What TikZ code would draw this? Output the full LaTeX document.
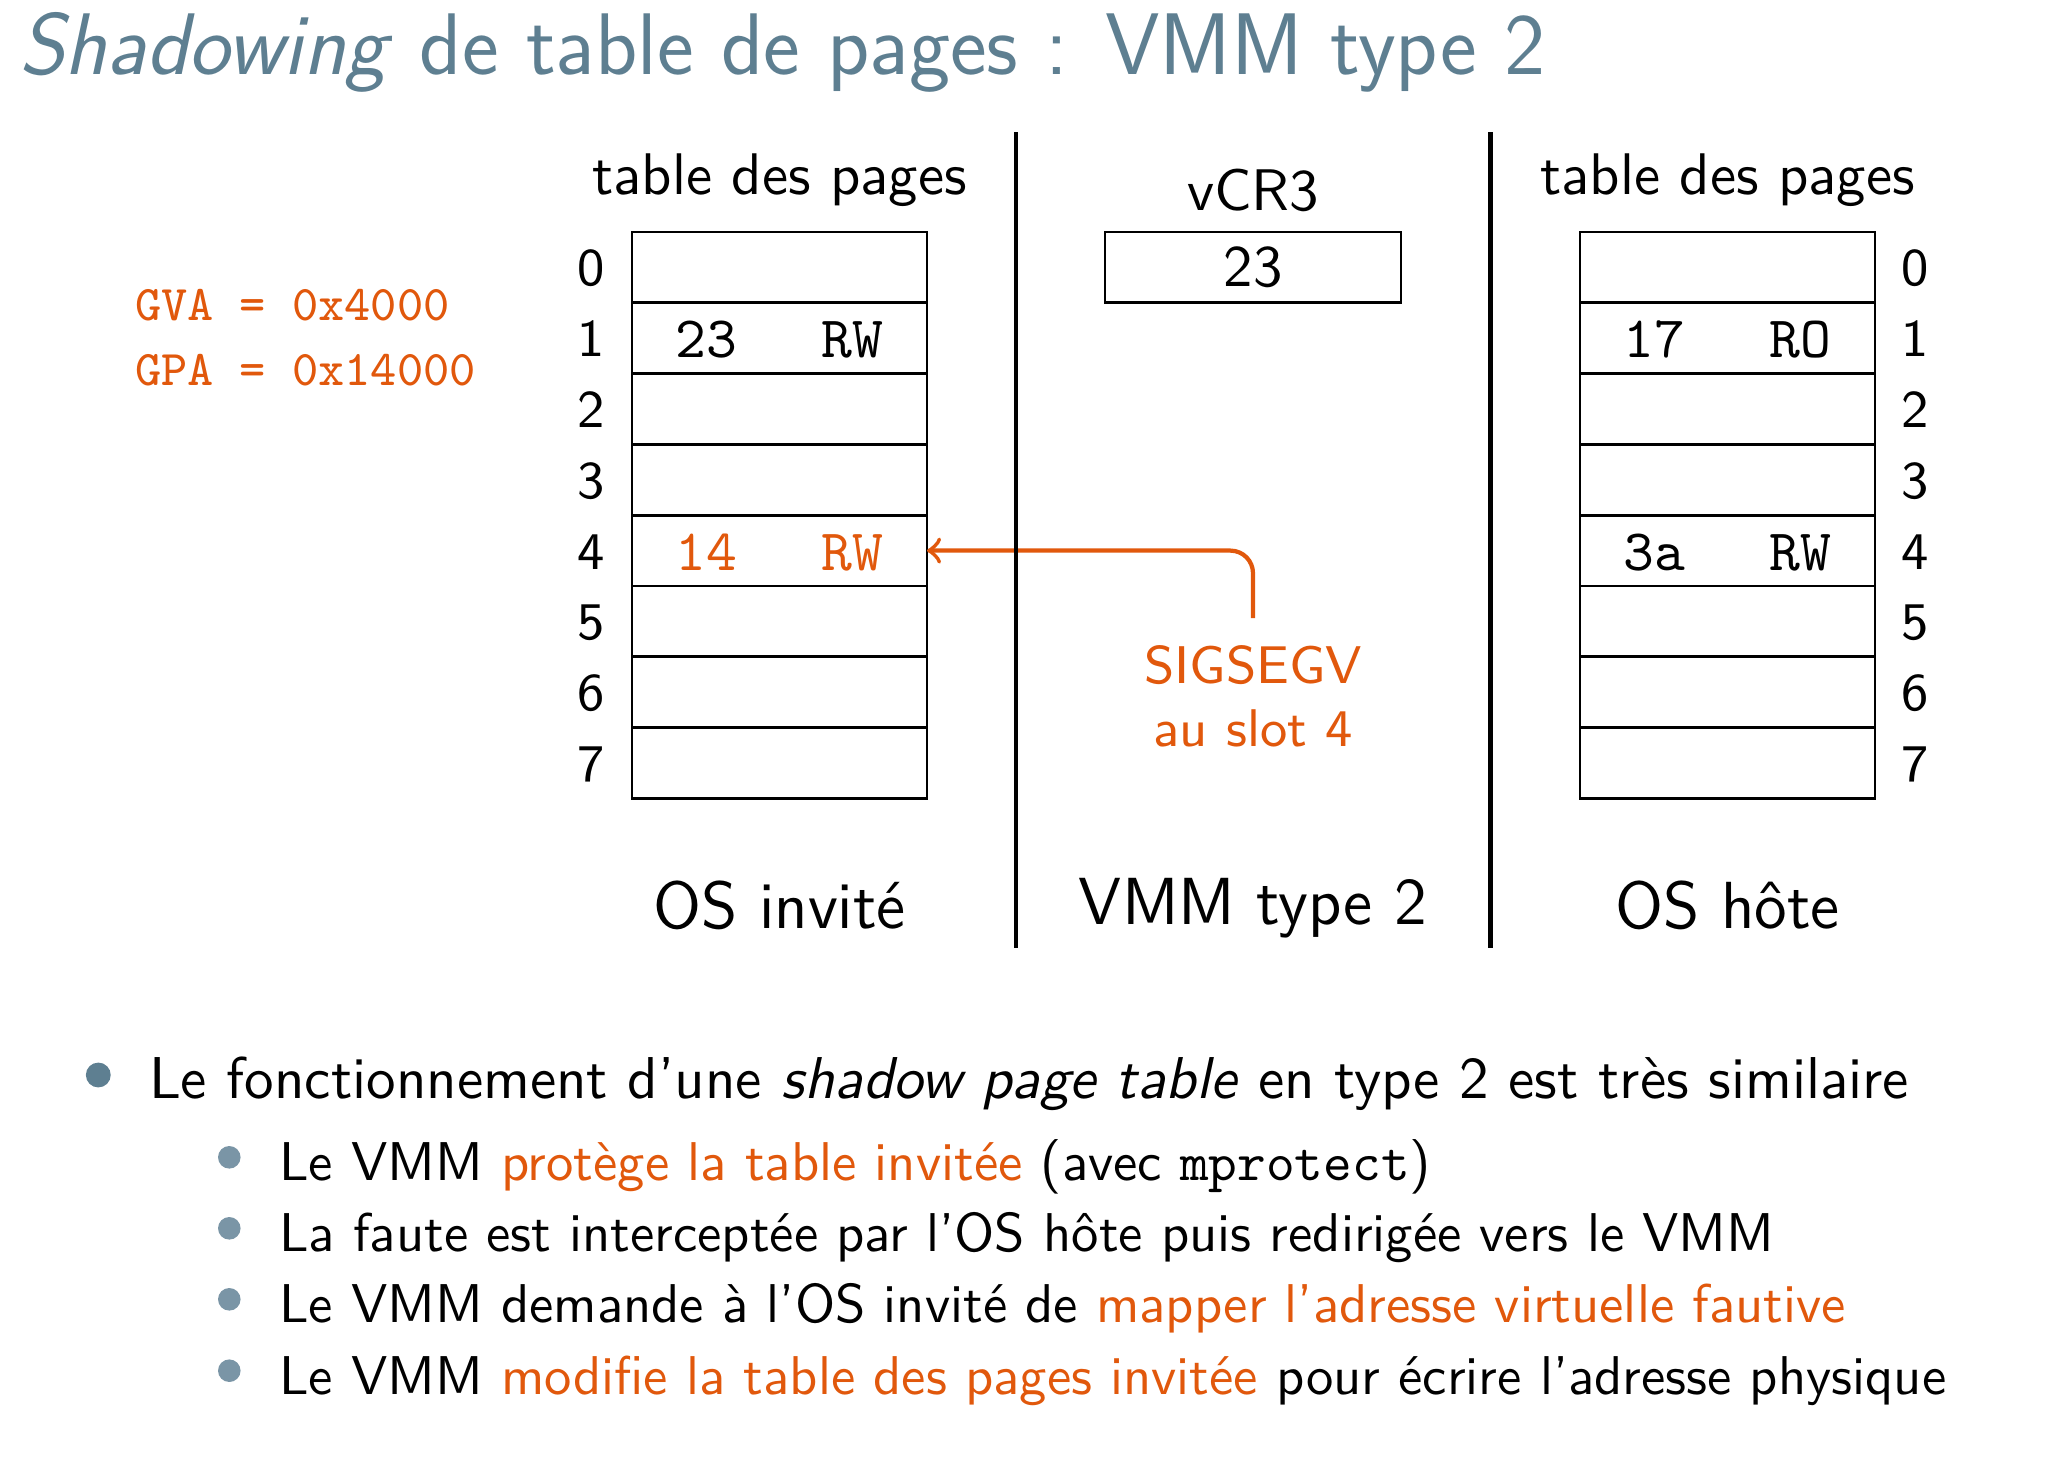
\documentclass[tikz,border=0pt]{standalone}
\usepackage{xcolor}
\definecolor{orng}{RGB}{225,88,12}
\definecolor{titlecol}{RGB}{94,127,145}
\definecolor{ballone}{RGB}{94,127,145}
\definecolor{balltwo}{RGB}{122,149,166}
\begin{document}
\begin{tikzpicture}[x=0.17722pt,y=-0.17722pt,
  every node/.style={inner sep=0pt,outer sep=0pt},
  lab/.style={font=\fontsize{9.4}{11}\selectfont\sffamily},
  head/.style={font=\fontsize{10.4}{12}\selectfont\sffamily},
  big/.style={font=\fontsize{11.8}{13}\selectfont\sffamily},
  mono/.style={font=\fontsize{8.85}{10}\selectfont\ttfamily},
  tmono/.style={font=\fontsize{10.4}{12}\selectfont\ttfamily},
  cell/.style={draw,line width=0.5pt,minimum width=52.28pt,minimum height=12.55pt},
  sep/.style={line width=0.8pt},
  arr/.style={draw=orng,line width=0.75pt,->,rounded corners=4pt},
  body/.style={font=\fontsize{10.46}{13}\selectfont\sffamily},
  sub/.style={font=\fontsize{9.68}{12}\selectfont\sffamily}]
\useasboundingbox (0,0) rectangle (2055,1483);
% title
\node[anchor=base west,text=titlecol,font=\fontsize{15.5}{18}\selectfont\sffamily] (title) at (19,74.7) {\textit{Shadowing} de table de pages : VMM type 2};
% guest addresses
\node[anchor=base west,mono,text=orng] (gva) at (135,320) {GVA = 0x4000};
\node[anchor=base west,mono,text=orng] (gpa) at (135,385.7) {GPA = 0x14000};
% headers
\node[anchor=base,head] (lhead) at (779.5,194) {table des pages};
\node[anchor=base,head] (vhead) at (1253,210) {vCR3};
\node[anchor=base,head] (rhead) at (1727.5,194) {table des pages};
% vCR3 box
\node[cell,minimum width=52.46pt,head] (cr3) at (1253,267.4) {23};
% tables
\foreach \i in {0,...,7}{
  \node[cell] (L\i) at (779.5,{267.4+70.8*\i}) {};
  \node[cell] (R\i) at (1727.5,{267.4+70.8*\i}) {};
  \node[anchor=base,lab] (ln\i) at (591,{285.8+70.8*\i}) {\i};
  \node[anchor=base,lab] (rn\i) at (1915,{285.8+70.8*\i}) {\i};
}
\node[anchor=base,tmono] (l1a) at (706.6,357.6) {23};
\node[anchor=base,tmono] (l1b) at (852,357.6) {RW};
\node[anchor=base,tmono,text=orng] (l4a) at (706.6,570) {14};
\node[anchor=base,tmono,text=orng] (l4b) at (852,570) {RW};
\node[anchor=base,tmono] (r1a) at (1654.5,357.6) {17};
\node[anchor=base,tmono] (r1b) at (1800,357.6) {RO};
\node[anchor=base,tmono] (r4a) at (1654.5,570) {3a};
\node[anchor=base,tmono] (r4b) at (1800,570) {RW};
% fault
\node[anchor=base,lab,text=orng] (sig) at (1253,683) {SIGSEGV};
\node[anchor=base,lab,text=orng] (slot) at (1253,746) {au slot 4};
\coordinate (sigtop) at (1253,618);
\draw[arr] (sigtop) |- (L4.east);
% separators
\coordinate (s1t) at (1016,132);
\coordinate (s1b) at (1016,948);
\coordinate (s2t) at (1490.6,132);
\coordinate (s2b) at (1490.6,948);
\draw[sep] (s1t) -- (s1b);
\draw[sep] (s2t) -- (s2b);
% bottom labels
\node[anchor=base,big] (osg) at (779.5,928) {OS invité};
\node[anchor=base,big] (vmm) at (1253,924) {VMM type 2};
\node[anchor=base,big] (osh) at (1727.5,928) {OS hôte};
% bullets
\fill[ballone] (98.3,1075) circle (2.2pt);
\node[anchor=base west,body] (b1) at (149,1098.3) {Le fonctionnement d'une \textit{shadow page table} en type 2 est très similaire};
\fill[balltwo] (229.3,1157.3) circle (2pt);
\fill[balltwo] (229.3,1228.3) circle (2pt);
\fill[balltwo] (229.3,1299.3) circle (2pt);
\fill[balltwo] (229.3,1370.7) circle (2pt);
\node[anchor=base west,sub] (s1) at (279,1180.7) {Le VMM \textcolor{orng}{protège la table invitée} (avec \texttt{mprotect})};
\node[anchor=base west,sub] (s2) at (279,1251.7) {La faute est interceptée par l'OS hôte puis redirigée vers le VMM};
\node[anchor=base west,sub] (s3) at (279,1322.7) {Le VMM demande à l'OS invité de \textcolor{orng}{mapper l'adresse virtuelle fautive}};
\node[anchor=base west,sub] (s4) at (279,1394) {Le VMM \textcolor{orng}{modifie la table des pages invitée} pour écrire l'adresse physique};
\end{tikzpicture}
\end{document}
